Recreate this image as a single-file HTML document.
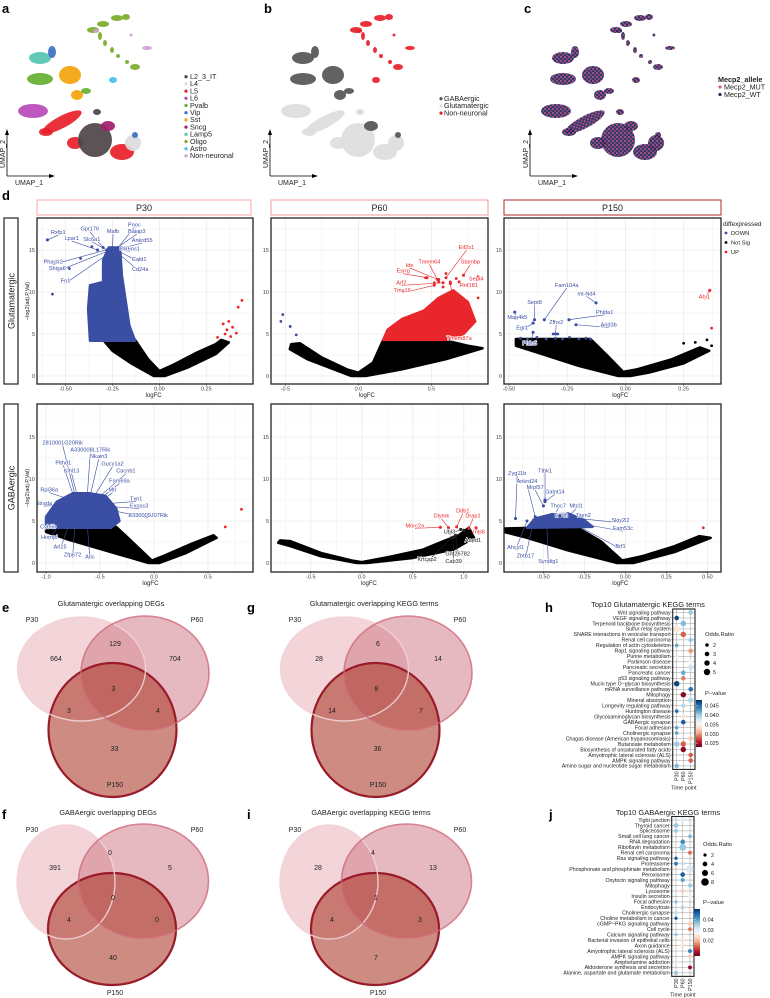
<!DOCTYPE html>
<html><head><meta charset="utf-8">
<style>
html,body{margin:0;padding:0;background:#fff;}
svg{display:block;font-family:"Liberation Sans",Arial,sans-serif;}
</style></head>
<body>
<svg id="fig" width="770" height="998" viewBox="0 0 770 998" xmlns="http://www.w3.org/2000/svg">
<defs>
<pattern id="pinkdots" width="4" height="4" patternUnits="userSpaceOnUse"><rect width="4" height="4" fill="#22285a"/><circle cx="1" cy="1" r="0.9" fill="#e8508c"/><circle cx="3" cy="3" r="0.7" fill="#e8508c"/></pattern>
</defs>
</svg>
<script>
// ---------------- DATA ----------------
const umapClusters = [
 ["Oligo",93,30,6,3],["Oligo",103,24,6,3],["Oligo",117,18,6,3],["Oligo",126,17,4,3],["Oligo",100,36,2,4],["Oligo",105,43,2,3],["Oligo",112,50,2,3],["Oligo",118,56,2,2],["Oligo",127,62,2,2],["Oligo",135,67,5,3],
 ["Non-neuronal",147,48,5,2],["Non-neuronal",131,35,1.5,1.5],["Non-neuronal",96,31,3,2],
 ["Lamp5",40,58,11,6],["Vip",52,52,4,6],["Pvalb",40,79,13,6],["Sst",70,75,11,9],["Sst",77,95,6,5],["Pvalb",86,91,5,3],["Astro",113,80,4,3],
 ["L6",33,111,15,7],["L5",62,122,22,6],["L5",75,143,8,6],["L5",46,132,7,4],["L5",122,152,12,8],
 ["L2_3_IT",95,140,17,17],["L2_3_IT",97,112,4,3],["Sncg",108,126,7,5],["L4",133,143,8,8],["Vip",135,135,3,3]
];
const cellTypes = ["L2_3_IT","L4","L5","L6","Pvalb","Vip","Sst","Sncg","Lamp5","Oligo","Astro","Non-neuronal"];
const cellColors = ["#4d4448","#dcdcdc","#e8202a","#b94ab8","#66b032","#3a6fc4","#f5a30a","#a21b6e","#54c4b0","#7aab2a","#3fc1ef","#cf9fd6"];
const classOf = {"L2_3_IT":"Glutamatergic","L4":"Glutamatergic","L5":"Glutamatergic","L6":"Glutamatergic","Pvalb":"GABAergic","Vip":"GABAergic","Sst":"GABAergic","Sncg":"GABAergic","Lamp5":"GABAergic","Oligo":"Non-neuronal","Astro":"Non-neuronal","Non-neuronal":"Non-neuronal"};
const classNames = ["GABAergic","Glutamatergic","Non-neuronal"];
const classColors = ["#555555","#dddddd","#e8202a"];

const ticksP30r1 = [-0.5,-0.25,0,0.25], tickLabP30r1 = ["-0.50","-0.25","0.00","0.25"];
const ticksP60r1 = [-0.5,0,0.5], tickLabP60r1 = ["-0.5","0.0","0.5"];
const ticksP150r1 = [-0.5,-0.25,0,0.25], tickLabP150r1 = ["-0.50","-0.25","0.00","0.25"];
const ticksP30r2 = [-1,-0.5,0,0.5], tickLabP30r2 = ["-1.0","-0.5","0.0","0.5"];
const ticksP60r2 = [-0.5,0,0.5,1], tickLabP60r2 = ["-0.5","0.0","0.5","1.0"];
const ticksP150r2 = [-0.5,-0.25,0,0.25,0.5], tickLabP150r2 = ["-0.50","-0.25","0.00","0.25","0.50"];
const yTicks = [0,5,10,15];

const cloudP30r1Black = [[-0.30,4.3],[-0.13,4.3],[-0.06,2.0],[0.0,0.6],[0.08,1.4],[0.2,2.8],[0.30,3.8],[0.33,4.3],[0.37,4.0],[0.30,2.6],[0.15,1.0],[0.03,0],[-0.03,0],[-0.15,1.5],[-0.25,3.0]];
const cloudP30r1Blue = [[-0.37,4.2],[-0.38,8.0],[-0.37,10.8],[-0.30,11.2],[-0.30,13.8],[-0.27,15.3],[-0.21,15.3],[-0.20,12.0],[-0.18,9.0],[-0.16,6.0],[-0.13,4.2]];
const ptsP30r1Red = [[0.35,5.0],[0.36,5.5],[0.34,6.2],[0.37,6.5],[0.39,5.8],[0.41,5.1],[0.38,4.7],[0.42,8.2],[0.44,9.0],[0.31,4.6]];
const ptsP30r1Blue = [[-0.597,16.2],[-0.57,9.75],[-0.48,12.8],[-0.42,14.0],[-0.36,15.4],[-0.33,15.0],[-0.24,15.2]];

const cloudP60r1Black = [[-0.46,3.8],[-0.40,3.9],[-0.25,2.2],[-0.08,0.8],[0,0.4],[0.1,1.6],[0.17,4.3],[0.58,4.3],[0.75,3.6],[0.85,3.3],[0.6,2.0],[0.3,0.8],[0.05,0],[-0.05,0],[-0.2,1.0],[-0.35,2.0],[-0.47,3.2]];
const cloudP60r1Red = [[0.17,4.3],[0.2,5.5],[0.3,6.8],[0.45,7.8],[0.55,9.3],[0.65,10.2],[0.75,8.8],[0.8,6.5],[0.72,5.0],[0.6,4.3]];
const ptsP60r1Red = [[0.55,11.5],[0.6,12.2],[0.63,11.2],[0.67,11.6],[0.72,12.0],[0.82,9.3],[0.82,11.8],[0.46,11.7],[0.52,11.1],[0.58,10.6],[0.69,11.2]];
const ptsP60r1Blue = [[-0.518,7.3],[-0.531,6.5],[-0.467,5.9],[-0.426,4.9]];

const cloudP150r1Black = [[-0.47,4.4],[-0.15,4.4],[-0.08,2.5],[-0.01,0.5],[0.05,0.8],[0.2,2.0],[0.32,3.4],[0.36,3.0],[0.25,1.5],[0.1,0.4],[0.02,0],[-0.03,0],[-0.2,1.2],[-0.38,2.8],[-0.47,3.6]];
const ptsP150r1Blue = [[-0.45,4.5],[-0.42,4.4],[-0.38,4.6],[-0.34,4.4],[-0.30,4.5],[-0.27,4.4],[-0.24,4.6],[-0.2,4.4],[-0.17,4.5],[-0.15,4.4],[-0.348,6.7],[-0.126,8.7],[-0.39,6.7],[-0.242,6.7],[-0.475,7.6],[-0.31,5.0],[-0.29,5.0],[-0.212,6.1],[-0.396,6.3],[-0.396,5.2]];
const ptsP150r1Red = [[0.362,10.2],[0.37,5.7]];
const ptsP150r1Black = [[0.25,3.9],[0.30,4.0],[0.35,4.3],[0.37,3.6]];

const cloudP30r2Black = [[-1.0,4.0],[-0.55,4.3],[-0.35,4.3],[-0.2,2.5],[-0.02,0.3],[0.1,0.9],[0.35,2.3],[0.55,3.3],[0.58,3.0],[0.3,1.2],[0.05,0],[-0.05,0],[-0.4,1.3],[-0.8,2.8],[-1.0,3.7]];
const cloudP30r2Blue = [[-1.0,4.2],[-1.0,5.5],[-0.9,7.3],[-0.75,8.3],[-0.6,8.3],[-0.45,8.0],[-0.35,6.5],[-0.32,5.0],[-0.4,4.2]];
const ptsP30r2Red = [[0.81,6.4],[0.66,4.3]];

const cloudP60r2Black = [[-0.8,2.7],[-0.7,2.6],[-0.4,1.2],[-0.1,0.3],[0,0.1],[0.3,0.8],[0.6,1.6],[0.8,2.6],[0.95,3.3],[1.05,4.2],[1.1,3.0],[0.9,1.6],[0.5,0.6],[0.05,0],[-0.05,0],[-0.4,0.8],[-0.7,2.0],[-0.82,2.4]];
const ptsP60r2Red = [[0.77,4.25],[0.85,4.2],[0.93,4.3],[1.05,4.1],[1.12,4.2]];
const ptsP60r2Black = [[0.97,4.0],[1.0,3.9],[0.92,3.3],[0.88,3.0],[0.9,3.1]];

const cloudP150r2Black = [[-0.76,4.1],[-0.55,4.2],[-0.3,4.3],[-0.15,2.6],[-0.02,0.3],[0.1,0.8],[0.3,2.0],[0.45,3.2],[0.52,3.0],[0.3,1.3],[0.05,0],[-0.05,0],[-0.35,1.5],[-0.6,3.0],[-0.76,3.8]];
const cloudP150r2Blue = [[-0.6,4.2],[-0.55,5.3],[-0.45,5.8],[-0.35,5.9],[-0.25,5.1],[-0.2,4.3]];
const ptsP150r2Red = [[0.475,4.2]];
const ptsP150r2Blue = [[-0.67,5.3],[-0.49,7.5],[-0.5,6.8],[-0.49,7.3],[-0.43,5.7]];

const genesP30r1 = [["Rxfp1",-0.597,16.2,-0.539,16.9],["Gpr176",-0.30,15.3,-0.371,17.3],["Pnoc",-0.22,15.3,-0.134,17.8],["Mafb",-0.25,15.3,-0.247,17.0],["Baiap3",-0.23,15.2,-0.121,17.0],["Lpar1",-0.33,15.0,-0.468,16.2],["Slc6a1",-0.28,15.0,-0.36,16.1],["Ankrd55",-0.22,15.1,-0.092,15.95],["Dlx6os1",-0.21,15.0,-0.158,14.96],["Phactr2",-0.27,15.1,-0.566,13.4],["Cald1",-0.22,14.9,-0.108,13.7],["Shisa6",-0.26,15.0,-0.544,12.6],["Cd24a",-0.23,14.8,-0.102,12.5],["Fn1",-0.25,14.9,-0.5,11.15]];
const genesP60r1 = [["Eif2s1",0.60,11.7,0.74,15.1],["Tmem64",0.55,11.2,0.486,13.4],["Stambp",0.72,12.0,0.767,13.4],["Ide",0.54,11.5,0.351,13.0],["Esrrg",0.47,11.7,0.307,12.3],["Sept4",0.82,11.8,0.807,11.35],["Arf2",0.58,11.1,0.294,10.9],["Rnf181",0.69,11.2,0.757,10.6],["Tma16",0.52,10.8,0.30,10.0],["Tmem87a",0.63,11.0,0.69,4.3]];
const genesP150r1 = [["Fam104a",-0.348,6.7,-0.252,10.6],["mt-Nd4",-0.126,8.7,-0.167,9.6],["Sept8",-0.39,6.7,-0.39,8.6],["Phlda1",-0.242,6.7,-0.089,7.4],["Map4k5",-0.475,7.6,-0.464,6.8],["Zfhx2",-0.3,5.0,-0.297,6.2],["Arid3b",-0.212,6.1,-0.072,5.9],["Egr1",-0.396,6.3,-0.443,5.55],["Pfdn5",-0.396,5.2,-0.411,3.7],["Ahi1",0.362,10.2,0.339,9.2]];
const genesP30r2 = [["2810001G20Rik",-0.72,7.5,-0.845,14.1],["A330008L17Rik",-0.62,7.6,-0.59,13.25],["Nkain3",-0.6,7.5,-0.512,12.5],["Pithd1",-0.73,7.4,-0.84,11.75],["Gucy1a2",-0.58,7.4,-0.384,11.6],["Klhl13",-0.7,7.5,-0.763,10.75],["Cacnb1",-0.56,7.3,-0.26,10.75],["Fam69a",-0.54,7.2,-0.32,9.6],["Rpl36a",-0.74,7.4,-0.97,8.5],["Mtr",-0.53,7.0,-0.384,8.5],["Txn1",-0.5,7.0,-0.165,7.45],["Strada",-0.85,6.9,-1.02,6.9],["Exosc3",-0.5,6.8,-0.137,6.6],["E330009J07Rik",-0.48,6.5,-0.054,5.5],["Cyb5b",-0.87,5.2,-0.98,4.1],["Hnrnpl",-0.86,5.0,-0.97,2.85],["Arl15",-0.77,5.2,-0.87,1.75],["Zfp672",-0.73,5.0,-0.754,0.75],["Atic",-0.62,5.0,-0.594,0.56]];
const genesP60r2 = [["Ddb1",0.93,4.3,0.99,6.0],["Dlymk",0.85,4.2,0.78,5.4],["Drap1",1.05,4.1,1.09,5.4],["Morc2a",0.77,4.25,0.52,4.25],["Ubl3",0.97,4.0,0.86,3.5],["Ints6",1.12,4.2,1.15,3.5],["Aaed1",1.0,3.9,1.09,2.5],["Gm26782",0.92,3.3,0.94,0.87],["Krtcap2",0.88,3.0,0.64,0.24],["Cab39",0.9,3.1,0.90,0.0]];
const colP60r2 = ["red","red","red","red","black","red","black","black","black","black"];
const genesP150r2 = [["Zyg11b",-0.67,5.3,-0.66,10.5],["Ttbk1",-0.49,7.5,-0.49,10.8],["Ankrd24",-0.55,5.5,-0.6,9.5],["Mrpl57",-0.5,6.8,-0.55,8.8],["Galnt14",-0.49,7.3,-0.43,8.3],["Thoc7",-0.43,5.7,-0.41,6.6],["Mtcl1",-0.36,5.3,-0.30,6.6],["Etfdh",-0.42,5.2,-0.39,5.5],["Tsen2",-0.33,5.0,-0.256,5.5],["Skiv2l2",-0.33,5.4,-0.03,4.9],["Fam53c",-0.36,5.0,-0.015,3.9],["Brf1",-0.4,5.6,-0.03,1.8],["Ahcyl1",-0.6,5.0,-0.67,1.67],["Zbtb17",-0.56,5.1,-0.61,0.68],["Syndig1",-0.48,5.0,-0.47,0.0]];

const vennE = [664,129,704,3,3,4,33];
const vennG = [28,6,14,8,14,7,36];
const vennF = [391,0,5,0,4,0,40];
const vennI = [28,4,13,1,4,3,7];

const timePoints = ["P30","P60","P150"];
const termsH = ["Wnt signaling pathway","VEGF signaling pathway","Terpenoid backbone biosynthesis","Sulfur relay system","SNARE interactions in vesicular transport","Renal cell carcinoma","Regulation of actin cytoskeleton","Rap1 signaling pathway","Purine metabolism","Parkinson disease","Pancreatic secretion","Pancreatic cancer","p53 signaling pathway","Mucin type O\u2212glycan biosynthesis","mRNA surveillance pathway","Mitophagy","Mineral absorption","Longevity regulating pathway","Huntington disease","Glycosaminoglycan biosynthesis","GABAergic synapse","Focal adhesion","Cholinergic synapse","Chagas disease (American trypanosomiasis)","Butanoate metabolism","Biosynthesis of unsaturated fatty acids","Amyotrophic lateral sclerosis (ALS)","AMPK signaling pathway","Amino sugar and nucleotide sugar metabolism"];
const dotsH = [[0,2,3,0.040],[1,0,3,0.047],[2,1,4,0.041],[3,0,5,0.034],[4,1,4,0.028],[5,2,3,0.040],[6,0,2,0.042],[7,2,3,0.030],[8,0,2,0.037],[9,2,3,0.035],[10,2,4,0.038],[11,1,3,0.042],[12,1,3,0.029],[13,0,4,0.047],[14,2,3,0.045],[15,1,4,0.024],[16,2,4,0.039],[17,1,3,0.039],[18,0,2,0.045],[19,1,3,0.034],[20,1,3,0.046],[21,0,2,0.042],[22,0,2,0.042],[23,2,3,0.032],[24,0,4,0.040],[24,1,4,0.028],[25,1,4,0.024],[26,2,3,0.028],[27,2,3,0.028],[28,0,3,0.041]];
const termsJ = ["Tight junction","Thyroid cancer","Spliceosome","Small cell lung cancer","RNA degradation","Riboflavin metabolism","Renal cell carcinoma","Ras signaling pathway","Proteasome","Phosphonate and phosphinate metabolism","Peroxisome","Oxytocin signaling pathway","Mitophagy","Lysosome","Insulin secretion","Focal adhesion","Endocytosis","Cholinergic synapse","Choline metabolism in cancer","cGMP\u2212PKG signaling pathway","Cell cycle","Calcium signaling pathway","Bacterial invasion of epithelial cells","Axon guidance","Amyotrophic lateral sclerosis (ALS)","AMPK signaling pathway","Amphetamine addiction","Aldosterone synthesis and secretion","Alanine, aspartate and glutamate metabolism"];
const dotsJ = [[0,1,4,0.030],[1,0,4,0.036],[2,0,3,0.036],[3,2,3,0.037],[4,1,4,0.042],[5,1,7,0.036],[6,2,3,0.015],[7,0,2,0.047],[8,0,3,0.043],[8,1,3,0.033],[9,2,8,0.031],[10,1,4,0.046],[11,1,3,0.040],[12,2,3,0.036],[13,1,3,0.022],[14,2,3,0.026],[15,0,2,0.037],[16,1,3,0.034],[17,0,3,0.033],[18,0,2,0.047],[19,2,3,0.022],[20,2,3,0.016],[21,0,2,0.036],[22,1,3,0.024],[23,1,3,0.024],[24,2,3,0.043],[25,2,3,0.022],[26,0,3,0.031],[27,2,3,0.008],[28,0,3,0.036]];
const oddsLegH = [2,3,4,5], pLegH = [0.045,0.040,0.035,0.030,0.025];
const oddsLegJ = [2,4,6,8], pLegJ = [0.04,0.03,0.02];

// ---------------- DRAW ----------------
const NS = "http://www.w3.org/2000/svg";
const svg = document.getElementById("fig");
function mk(tag, attrs, parent){ const e=document.createElementNS(NS,tag); for(const k in attrs) e.setAttribute(k,attrs[k]); (parent||svg).appendChild(e); return e; }
function txt(x,y,s,size,attrs,parent){ const a=Object.assign({x:x,y:y,"font-size":size,fill:"#222"},attrs||{}); const t=mk("text",a,parent); t.textContent=s; return t; }

[["a",2,13],["b",264,13],["c",524,13],["d",2,200],["e",2,612],["g",247,612],["h",545,612],["f",2,819],["i",247,819],["j",549,819]].forEach(p=>{
  const t=txt(p[1],p[2],p[0],13,{"font-weight":"bold",fill:"#000"});
  
  
});

function umapPanel(ox, mode, name){
  const g=mk("g",{});
  
  
  umapClusters.forEach(c=>{
    let fill;
    if(mode==="type") fill=cellColors[cellTypes.indexOf(c[0])];
    else if(mode==="class") fill=classColors[classNames.indexOf(classOf[c[0]])];
    else fill="url(#pinkdots)";
    const rot = (c[0]==="L5" && c[3]>20) ? `rotate(-28 ${ox+c[1]} ${c[2]})` : "";
    const e=mk("ellipse",{cx:ox+c[1],cy:c[2],rx:c[3],ry:c[4],fill:fill,opacity:0.92,transform:rot},g);
    
    
  });
  mk("line",{x1:ox+7,y1:176,x2:ox+7,y2:132,stroke:"#000","stroke-width":0.8},g);
  mk("path",{d:`M${ox+5},${135} L${ox+7},${129} L${ox+9},${135}Z`,fill:"#000"},g);
  mk("line",{x1:ox+7,y1:176,x2:ox+52,y2:176,stroke:"#000","stroke-width":0.8},g);
  mk("path",{d:`M${ox+49},${174} L${ox+55},${176} L${ox+49},${178}Z`,fill:"#000"},g);
  txt(ox+5,168,"UMAP_2",7,{transform:`rotate(-90 ${ox+5} 168)`},g);
  txt(ox+15,185,"UMAP_1",7,{},g);
}
umapPanel(0,"type","umap-celltype");
umapPanel(263,"class","umap-class");
umapPanel(523,"allele","umap-allele");

cellTypes.forEach((n,i)=>{
  const y=79+i*7.2;
  const c=mk("circle",{cx:186,cy:y-2.3,r:1.6,fill:cellColors[i]});
  
  
  const t=txt(190,y,n,7.2);
  
  
});
classNames.forEach((n,i)=>{
  const y=101+i*7.2;
  mk("circle",{cx:441,cy:y-2.3,r:1.6,fill:classColors[i]});
  const t=txt(444,y,n,7.2);
  
  
});
{
  const t=txt(718,82,"Mecp2_allele",7.2,{"font-weight":"bold"});
  
  
  mk("circle",{cx:720,cy:87,r:1.6,fill:"#e8508c"});
  const t2=txt(724,89.5,"Mecp2_MUT",7.2);
  
  
  mk("circle",{cx:720,cy:94.5,r:1.6,fill:"#22285a"});
  const t3=txt(724,97,"Mecp2_WT",7.2);
  
  
}

const stripX=[[37,251,"P30","#f4a6a6"],[271,488,"P60","#ee9a9a"],[504,721,"P150","#b22a2a"]];
stripX.forEach(s=>{
  const r=mk("rect",{x:s[0],y:200,width:s[1]-s[0],height:15,fill:"#fff",stroke:s[3],"stroke-width":1});
  
  
  txt((s[0]+s[1])/2,211,s[2],9,{"text-anchor":"middle"});
});
[["Glutamatergic",218,384],["GABAergic",404,572]].forEach(r=>{
  const b=mk("rect",{x:4,y:r[1],width:14,height:r[2]-r[1],fill:"#fff",stroke:"#222","stroke-width":1.2});
  
  
  const cy=(r[1]+r[2])/2;
  txt(14.5,cy,r[0],9,{"text-anchor":"middle",transform:`rotate(-90 14.5 ${cy})`});
  txt(29,cy,"\u2212log2(adj.P.Val)",5.5,{"text-anchor":"middle",transform:`rotate(-90 29 ${cy})`});
});

function volcano(cfg){
  const g=mk("g",{});
  
  
  const sx=v=>cfg.x0+v*cfg.unit, sy=v=>cfg.y0-v*8.4;
  const clip="clip-"+cfg.name;
  const cp=mk("clipPath",{id:clip},g); mk("rect",{x:cfg.L,y:cfg.T,width:cfg.R-cfg.L,height:cfg.B-cfg.T},cp);
  const inner=mk("g",{"clip-path":`url(#${clip})`},g);
  const step=cfg.ticks[1]-cfg.ticks[0];
  for(let v=cfg.ticks[0]-step*2; v<=cfg.ticks[cfg.ticks.length-1]+step*2; v+=step/2){
    const major=Math.abs((v-cfg.ticks[0])/step-Math.round((v-cfg.ticks[0])/step))<1e-6;
    mk("line",{x1:sx(v),y1:cfg.T,x2:sx(v),y2:cfg.B,stroke:"#ebebeb","stroke-width":major?0.8:0.4},inner);
  }
  for(let v=-2.5; v<=20; v+=2.5){
    const major=(v%5===0);
    mk("line",{x1:cfg.L,y1:sy(v),x2:cfg.R,y2:sy(v),stroke:"#ebebeb","stroke-width":major?0.8:0.4},inner);
  }
  const poly=(pts,col)=>mk("polygon",{points:pts.map(q=>sx(q[0])+","+sy(q[1])).join(" "),fill:col,stroke:col,"stroke-width":2.5,"stroke-linejoin":"round"},inner);
  const dots=(pts,col)=>pts.forEach(q=>{ const c=mk("circle",{cx:sx(q[0]),cy:sy(q[1]),r:1.4,fill:col},inner);   });
  (cfg.black||[]).forEach(p=>{ const e=poly(p,"#000");   });
  (cfg.blue||[]).forEach(p=>{ const e=poly(p,"#3a4ea3");   });
  (cfg.red||[]).forEach(p=>{ const e=poly(p,"#e8262b");   });
  dots(cfg.blackPts||[],"#000"); dots(cfg.bluePts||[],"#3a4ea3"); dots(cfg.redPts||[],"#e8262b");
  (cfg.genes||[]).forEach((gn,i)=>{
    let col = cfg.geneColor==="mixed" ? (cfg.geneCols[i]==="red"?"#e8262b":"#222") : (cfg.geneColor==="auto" ? (gn[1]>0?"#e8262b":"#3a4ea3") : cfg.geneColor);
    const lx=sx(gn[3]), ly=sy(gn[4]);
    mk("line",{x1:sx(gn[1]),y1:sy(gn[2]),x2:lx,y2:ly+1,stroke:col,"stroke-width":0.6},inner);
    mk("circle",{cx:sx(gn[1]),cy:sy(gn[2]),r:1.5,fill:col},inner);
    const t=txt(lx,ly,gn[0],5.6,{"text-anchor":"middle",fill:col,stroke:"#fff","stroke-width":1.2,"paint-order":"stroke"},inner);
    
    
  });
  mk("rect",{x:cfg.L,y:cfg.T,width:cfg.R-cfg.L,height:cfg.B-cfg.T,fill:"none",stroke:"#222","stroke-width":1.3},g);
  cfg.ticks.forEach((v,i)=>{
    mk("line",{x1:sx(v),y1:cfg.B,x2:sx(v),y2:cfg.B+2,stroke:"#333","stroke-width":0.5},g);
    txt(sx(v),cfg.B+6.5,cfg.tickLabs[i],5.5,{"text-anchor":"middle",fill:"#444"},g);
  });
  yTicks.forEach(v=>{ txt(cfg.L-2,sy(v)+2,String(v),5.5,{"text-anchor":"end",fill:"#444"},g); });
  txt((cfg.L+cfg.R)/2+ (cfg.x0-(cfg.L+cfg.R)/2)*0.6,cfg.B+13,"logFC",6,{"text-anchor":"middle"},g);
}
volcano({name:"volcano-glut-p30",L:37,R:253,T:218,B:384,x0:159.4,unit:187.6,y0:376,ticks:ticksP30r1,tickLabs:tickLabP30r1,black:[cloudP30r1Black],blue:[cloudP30r1Blue],redPts:ptsP30r1Red,bluePts:ptsP30r1Blue,genes:genesP30r1,geneColor:"#3a4ea3"});
volcano({name:"volcano-glut-p60",L:271,R:488,T:218,B:384,x0:358.4,unit:146,y0:376,ticks:ticksP60r1,tickLabs:tickLabP60r1,black:[cloudP60r1Black],red:[cloudP60r1Red],redPts:ptsP60r1Red,bluePts:ptsP60r1Blue,genes:genesP60r1,geneColor:"#e8262b"});
volcano({name:"volcano-glut-p150",L:504,R:721,T:218,B:384,x0:625.4,unit:233,y0:376,ticks:ticksP150r1,tickLabs:tickLabP150r1,black:[cloudP150r1Black],blackPts:ptsP150r1Black,bluePts:ptsP150r1Blue,redPts:ptsP150r1Red,genes:genesP150r1,geneColor:"auto"});
volcano({name:"volcano-gaba-p30",L:37,R:253,T:404,B:572,x0:154,unit:108,y0:563,ticks:ticksP30r2,tickLabs:tickLabP30r2,black:[cloudP30r2Black],blue:[cloudP30r2Blue],redPts:ptsP30r2Red,genes:genesP30r2,geneColor:"#3a4ea3"});
volcano({name:"volcano-gaba-p60",L:271,R:488,T:404,B:572,x0:361.8,unit:102,y0:563,ticks:ticksP60r2,tickLabs:tickLabP60r2,black:[cloudP60r2Black],redPts:ptsP60r2Red,blackPts:ptsP60r2Black,genes:genesP60r2,geneColor:"mixed",geneCols:colP60r2});
volcano({name:"volcano-gaba-p150",L:504,R:721,T:404,B:572,x0:625.4,unit:164,y0:563,ticks:ticksP150r2,tickLabs:tickLabP150r2,black:[cloudP150r2Black],blue:[cloudP150r2Blue],redPts:ptsP150r2Red,bluePts:ptsP150r2Blue,genes:genesP150r2,geneColor:"#3a4ea3"});

{
  const t=txt(723,226,"diffexpressed",6.5);
  
  
  [["DOWN","#3a4ea3"],["Not Sig","#000"],["UP","#e8262b"]].forEach((d,i)=>{
    const y=235+i*9.5;
    mk("circle",{cx:726,cy:y-2,r:1.4,fill:d[1]});
    const e=txt(731,y,d[0],5.8);
    
    
  });
}

function venn(name, title, counts, ox, oy, geom){
  const g=mk("g",{});
  
  
  txt(ox+geom.tx,oy+geom.ty,title,7.3,{"text-anchor":"middle"},g);
  const E=geom.e;
  const fills=["rgba(232,170,180,0.5)","rgba(205,115,130,0.5)","rgba(172,62,45,0.6)"];
  E.forEach((e,i)=>{ const el=mk("ellipse",{cx:ox+e[0],cy:oy+e[1],rx:e[2],ry:e[3],fill:fills[i]},g);   });
  mk("ellipse",{cx:ox+E[2][0],cy:oy+E[2][1],rx:E[2][2],ry:E[2][3],fill:"none",stroke:"#991b2a","stroke-width":2.2},g);
  mk("ellipse",{cx:ox+E[0][0],cy:oy+E[0][1],rx:E[0][2],ry:E[0][3],fill:"none",stroke:"#f1d3d7","stroke-width":1.4,"stroke-opacity":0.9},g);
  mk("ellipse",{cx:ox+E[1][0],cy:oy+E[1][1],rx:E[1][2],ry:E[1][3],fill:"none",stroke:"#cf6a7a","stroke-width":1.6,"stroke-opacity":0.8},g);
  geom.sets.forEach(s=>txt(ox+s[1],oy+s[2],s[0],7,{"text-anchor":"middle"},g));
  geom.num.forEach((p,i)=>{ const t=txt(ox+p[0],oy+p[1],String(counts[i]),7,{"text-anchor":"middle"},g);   });
}
const geomTop={tx:111,ty:606,e:[[81.5,669,64,52],[145,673,64,57],[112.5,730,64,67]],sets:[["P30",32,622],["P60",197,622],["P150",115,787]],num:[[56,661],[115,646],[175,661],[113.5,691],[69,713],[158,713],[114.5,751]]};
const geomBot={tx:108,ty:815,e:[[66,882,49,57],[143.5,881,65,57],[112,929,64,56]],sets:[["P30",32,832],["P60",197,832],["P150",115,995]],num:[[55,870],[110,855],[170,870],[113,900],[69,922],[157,922],[113,960]]};
venn("venn-e-glut-degs","Glutamatergic overlapping DEGs",vennE,0,0,geomTop);
venn("venn-g-glut-kegg","Glutamatergic overlapping KEGG terms",vennG,263,0,geomTop);
venn("venn-f-gaba-degs","GABAergic overlapping DEGs",vennF,0,0,geomBot);
venn("venn-i-gaba-kegg","GABAergic overlapping KEGG terms",vennI,263,0,geomBot);

const rdbu=["#67001f","#b2182b","#d6604d","#f4a582","#fddbc7","#f7f7f7","#d1e5f0","#92c5de","#4393c3","#2166ac","#053061"];
function cmap(t){ t=Math.max(0,Math.min(1,t)); const f=t*(rdbu.length-1); const i=Math.min(rdbu.length-2,Math.floor(f)); const u=f-i;
  const a=rdbu[i],b=rdbu[i+1]; const h=(s,k)=>parseInt(s.substr(1+2*k,2),16);
  return "rgb("+[0,1,2].map(k=>Math.round(h(a,k)+(h(b,k)-h(a,k))*u)).join(",")+")"; }
function dotplot(cfg){
  const g=mk("g",{});
  
  
  txt(cfg.titleX,cfg.titleY,cfg.title,7.5,{"text-anchor":"middle"},g);
  const rowY=i=>cfg.y0+i*cfg.step, colX=j=>cfg.cols[j];
  const n=cfg.terms.length;
  const top=rowY(0)-3.5, bot=rowY(n-1)+3.5;
  cfg.terms.forEach((t,i)=>{
    mk("line",{x1:cfg.L,y1:rowY(i),x2:cfg.R,y2:rowY(i),stroke:"#999","stroke-width":0.5},g);
    mk("line",{x1:cfg.L-1.5,y1:rowY(i),x2:cfg.L,y2:rowY(i),stroke:"#333","stroke-width":0.4},g);
    const e=txt(cfg.L-2,rowY(i)+1.8,t,5.3,{"text-anchor":"end"},g);
    
    
  });
  timePoints.forEach((tp,j)=>{
    mk("line",{x1:colX(j),y1:top,x2:colX(j),y2:bot,stroke:"#999","stroke-width":0.5},g);
    txt(colX(j)+1.8,bot+2,tp,5.3,{"text-anchor":"end",transform:`rotate(-90 ${colX(j)+1.8} ${bot+2})`},g);
  });
  mk("rect",{x:cfg.L,y:top,width:cfg.R-cfg.L,height:bot-top,fill:"none",stroke:"#222","stroke-width":1.1},g);
  txt((cfg.L+cfg.R)/2,bot+20,"Time point",5.5,{"text-anchor":"middle"},g);
  const rr=o=>cfg.rmin+(o-cfg.omin)/(cfg.omax-cfg.omin)*(cfg.rmax-cfg.rmin);
  const cc=p=>cmap((p-cfg.pmin)/(cfg.pmax-cfg.pmin));
  cfg.dots.forEach(d=>{
    const c=mk("circle",{cx:colX(d[1]),cy:rowY(d[0]),r:rr(d[2]),fill:cc(d[3])},g);
    
    
  });
  txt(cfg.legX,cfg.orY,"Odds.Ratio",5.8,{},g);
  cfg.oddsLeg.forEach((o,i)=>{
    const y=cfg.orY+9+i*9;
    mk("circle",{cx:cfg.legX+2,cy:y,r:rr(o),fill:"#000"},g);
    txt(cfg.legX+8,y+2,String(o),5.5,{},g);
  });
  txt(cfg.legX,cfg.pvY,"P\u2212value",5.8,{},g);
  const gid="grad-"+cfg.name;
  const lg=mk("linearGradient",{id:gid,x1:0,y1:1,x2:0,y2:0},g);
  for(let k=0;k<=10;k++) mk("stop",{offset:k/10,"stop-color":cmap(k/10)},lg);
  const by0=cfg.pvY+5, bh=cfg.barH;
  mk("rect",{x:cfg.legX-9,y:by0,width:6,height:bh,fill:`url(#${gid})`},g);
  cfg.pLeg.forEach(p=>{
    const y=by0+bh-(p-cfg.pmin)/(cfg.pmax-cfg.pmin)*bh;
    mk("line",{x1:cfg.legX-9,y1:y,x2:cfg.legX-7.5,y2:y,stroke:"#fff","stroke-width":0.5},g);
    txt(cfg.legX,y+2,cfg.pFmt(p),5.5,{},g);
  });
}
dotplot({name:"dotplot-h-glut-kegg",title:"Top10 Glutamatergic KEGG terms",titleX:648,titleY:607,terms:termsH,dots:dotsH,y0:612.5,step:5.48,L:672.7,R:695,cols:[676.7,683.3,690.7],omin:2,omax:5,rmin:1.8,rmax:3.2,pmin:0.023,pmax:0.048,oddsLeg:oddsLegH,pLeg:pLegH,pFmt:p=>p.toFixed(3),legX:705,orY:636,pvY:695,barH:47});
dotplot({name:"dotplot-j-gaba-kegg",title:"Top10 GABAergic KEGG terms",titleX:668,titleY:815,terms:termsJ,dots:dotsJ,y0:820,step:5.46,L:671.7,R:694,cols:[676,682.7,690],omin:2,omax:8,rmin:1.6,rmax:3.8,pmin:0.005,pmax:0.05,oddsLeg:oddsLegJ,pLeg:pLegJ,pFmt:p=>p.toFixed(2),legX:703,orY:846,pvY:904,barH:47});
</script>
</body></html>
